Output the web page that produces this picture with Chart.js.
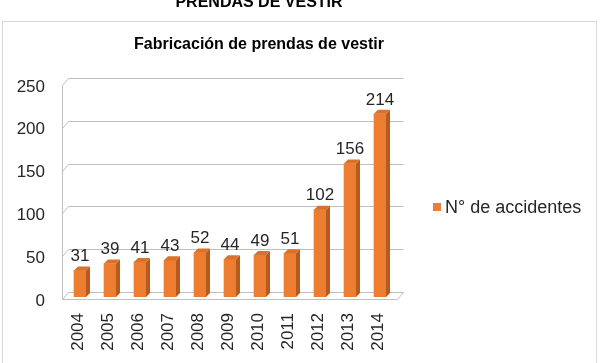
<!DOCTYPE html>
<html>
<head>
<meta charset="utf-8">
<script src="https://cdn.jsdelivr.net/npm/chart.js@4"></script>
<style>
  body { margin: 0; background: #fff; }
  canvas { display: block; }
</style>
</head>
<body>
<canvas id="myChart" width="602" height="363"></canvas>
<script>
const pageTitle = 'PRENDAS DE VESTIR';
const chartTitle = 'Fabricación de prendas de vestir';
const seriesName = 'N° de accidentes';
const years = ['2004', '2005', '2006', '2007', '2008', '2009', '2010', '2011', '2012', '2013', '2014'];
const accidents = [31, 39, 41, 43, 52, 44, 49, 51, 102, 156, 214];
const yTicks = [0, 50, 100, 150, 200, 250];

const orange = '#ed7d31';
const textColor = '#262626';
const font = 'Liberation Sans, Arial, sans-serif';

Chart.defaults.font.family = font;
Chart.defaults.color = textColor;

// walls, floor and gridlines of the fake 3d box
const box3d = {
  id: 'box3d',
  beforeDraw(chart) {
    const ctx = chart.ctx;
    ctx.save();
    ctx.strokeStyle = '#d9d9d9';
    ctx.lineWidth = 1;
    ctx.strokeRect(2.5, 21.5, 594, 360);
    ctx.restore();
  },
  beforeDatasetsDraw(chart) {
    const {ctx, chartArea: a, scales: {y}} = chart;
    const fx0 = a.left - 3, fx1 = a.right + 2, dx = 6, dy = -7;
    ctx.save();
    ctx.strokeStyle = '#bfbfbf';
    ctx.lineWidth = 1;
    ctx.beginPath();
    yTicks.forEach(v => {
      const yf = Math.round(y.getPixelForValue(v) + 2) + 0.5;
      ctx.moveTo(fx0 + 0.5, yf);
      ctx.lineTo(fx0 + dx + 0.5, yf + dy);
      ctx.lineTo(fx1 + dx + 0.5, yf + dy);
    });
    const top = Math.round(y.getPixelForValue(yTicks[yTicks.length - 1]) + 2) + 0.5;
    const bot = Math.round(y.getPixelForValue(0) + 2) + 0.5;
    ctx.moveTo(fx0 + 0.5, top);
    ctx.lineTo(fx0 + 0.5, bot);
    ctx.lineTo(fx1 + 0.5, bot);
    ctx.lineTo(fx1 + dx + 0.5, bot + dy);
    ctx.stroke();
    ctx.restore();
  },
  afterDatasetsDraw(chart) {
    const ctx = chart.ctx;
    const meta = chart.getDatasetMeta(0);
    const d = 4;
    ctx.save();
    meta.data.forEach((bar, i) => {
      const {x, y, base, width} = bar.getProps(['x', 'y', 'base', 'width'], true);
      const l = x - width / 2, r = x + width / 2;
      ctx.fillStyle = '#b65b1d';
      ctx.beginPath();
      ctx.moveTo(r, y);
      ctx.lineTo(r + d, y - d);
      ctx.lineTo(r + d, base - d);
      ctx.lineTo(r, base);
      ctx.closePath();
      ctx.fill();
      ctx.fillStyle = '#d9712b';
      ctx.beginPath();
      ctx.moveTo(l, y);
      ctx.lineTo(l + d, y - d);
      ctx.lineTo(r + d, y - d);
      ctx.lineTo(r, y);
      ctx.closePath();
      ctx.fill();
      ctx.fillStyle = textColor;
      ctx.font = '17px ' + font;
      ctx.textAlign = 'center';
      ctx.textBaseline = 'middle';
      ctx.fillText(String(accidents[i]), x, y - 14);
    });
    ctx.restore();
  },
  afterDraw(chart) {
    const ctx = chart.ctx;
    ctx.save();
    ctx.fillStyle = '#000';
    ctx.textAlign = 'center';
    ctx.textBaseline = 'alphabetic';
    ctx.font = 'bold 16px ' + font;
    ctx.fillText(pageTitle, 259, 7);
    ctx.fillText(chartTitle, 259, 49);
    // legend
    ctx.fillStyle = orange;
    ctx.fillRect(433, 203, 8, 8);
    ctx.fillStyle = textColor;
    ctx.textAlign = 'left';
    ctx.textBaseline = 'middle';
    ctx.font = '18px ' + font;
    ctx.fillText(chart.data.datasets[0].label, 445, 208);
    ctx.restore();
  }
};

new Chart(document.getElementById('myChart'), {
  type: 'bar',
  data: {
    labels: years,
    datasets: [{
      label: seriesName,
      data: accidents,
      backgroundColor: orange,
      borderWidth: 0,
      barThickness: 12
    }]
  },
  options: {
    responsive: false,
    animation: false,
    layout: { padding: { top: 83, right: 207, left: 0, bottom: 0 } },
    plugins: {
      legend: { display: false },
      title: { display: false },
      tooltip: { enabled: false }
    },
    scales: {
      x: {
        grid: { display: false },
        border: { display: false },
        ticks: {
          minRotation: 90,
          maxRotation: 90,
          autoSkip: false,
          padding: 8,
          labelOffset: -2,
          font: { size: 17 }
        },
        afterFit: s => { s.height = 66; }
      },
      y: {
        min: 0,
        max: 250,
        grid: { display: false },
        border: { display: false },
        ticks: {
          stepSize: 50,
          padding: 12,
          labelOffset: 4,
          font: { size: 17 }
        },
        afterFit: s => { s.width = 65; }
      }
    }
  },
  plugins: [box3d]
});
</script>
</body>
</html>
